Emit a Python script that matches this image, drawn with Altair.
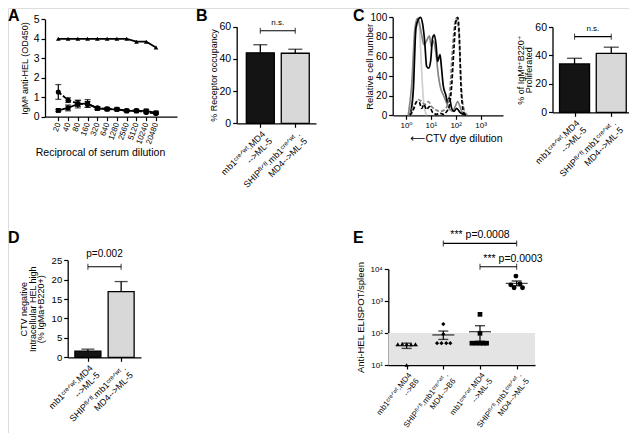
import json
import altair as alt
import pandas as pd

FONT = "Liberation Sans, Arial, DejaVu Sans, sans-serif"
W, H = 621, 425
M = 8  # page margin

# ---------------- Panel A : ELISA titration
dilution = [20, 40, 80, 160, 320, 640, 1280, 2560, 5120, 10240, 20480]
a_tri = [4.0, 4.0, 4.0, 4.0, 4.0, 4.0, 4.0, 4.0, 3.85, 3.85, 3.55]
a_circ = [1.27, 0.85, 0.68, 0.63, 0.46, 0.40, 0.38, 0.31, 0.31, 0.22, 0.17]
a_circ_err = [0.38, 0.12, 0.15, 0.15, 0.06, 0.05, 0.05, 0.04, 0.04, 0.04, 0.04]
a_sq = [0.32, 0.45, 0.65, 0.68, 0.42, 0.39, 0.38, 0.30, 0.30, 0.30, 0.20]
a_sq_err = [0.05, 0.15, 0.20, 0.20, 0.06, 0.05, 0.05, 0.04, 0.04, 0.06, 0.06]

# ---------------- shared group labels (B, C, D)
groups2 = ["mb1ᶜʳᵉᐟʷᵗ.MD4|-->ML-5", "SHIPᶠˡᐟᶠˡ.mb1ᶜʳᵉᐟʷᵗ .|MD4-->ML-5"]

# ---------------- Panel B
b_mean = [43.8, 43.5]
b_err = [5.0, 2.5]
b_sig_text = "n.s."
b_sig_y = 57.5

# ---------------- Panel C histogram (log10 CTV intensity, % of max)
h_light_lx = [0.23, 0.30, 0.36, 0.42, 0.46, 0.52, 0.56, 0.64, 0.72, 0.83]
h_light_y = [0, 30, 76, 92, 98, 95, 82, 41, 11, 0]
h_grey_lx = [0.09, 0.23, 0.36, 0.46, 0.54, 0.63, 0.72, 0.83, 0.94, 1.02, 1.10, 1.21,
             1.30, 1.39, 1.50, 1.61, 1.74, 1.88, 1.98, 2.08, 2.17, 2.28, 2.41]
h_grey_y = [0, 31, 89, 99, 94, 82, 72, 76, 81, 70, 76, 62, 41, 28, 21, 14, 7, 4, 9, 14, 9, 2, 0]
h_black_lx = [0.16, 0.29, 0.40, 0.50, 0.59, 0.67, 0.75, 0.83, 0.91, 0.99, 1.07, 1.14, 1.21,
              1.27, 1.37, 1.43, 1.50, 1.60, 1.68, 1.74, 1.84, 1.93, 2.04, 2.17, 2.31, 2.44]
h_black_y = [0, 24, 89, 98, 100, 93, 76, 50, 48, 55, 79, 82, 72, 55, 62, 48, 30, 21, 13, 18,
             7, 4, 7, 3, 1, 0]
h_greyd_lx = [0.12, 0.36, 0.50, 0.63, 0.76, 0.90, 1.03, 1.17, 1.37, 1.57, 1.74, 1.85, 1.94,
              2.03, 2.11, 2.17, 2.25, 2.36, 2.47]
h_greyd_y = [0, 11, 16, 14, 11, 14, 9, 6, 4, 6, 18, 59, 89, 99, 89, 59, 21, 4, 0]
h_blackd_lx = [0.16, 0.32, 0.43, 0.54, 0.63, 0.72, 0.83, 0.94, 1.07, 1.23, 1.37, 1.50, 1.64,
               1.74, 1.84, 1.93, 2.01, 2.08, 2.15, 2.21, 2.31, 2.41]
h_blackd_y = [0, 7, 14, 13, 7, 11, 6, 9, 3, 1, 2, 1, 4, 9, 31, 69, 96, 100, 79, 31, 4, 0]

# ---------------- Panel C bars
c_mean = [34.0, 41.5]
c_err = [4.0, 4.3]
c_sig_text = "n.s."
c_sig_y = 53.2

# ---------------- Panel D
d_mean = [1.6, 16.9]
d_err = [0.5, 2.6]
d_sig_text = "p=0.002"
d_sig_y = 23.3

# ---------------- Panel E : ELISPOT
e_labels = ["mb1ᶜʳᵉᐟʷᵗ.MD4|-->B6", "SHIPᶠˡᐟᶠˡ.mb1ᶜʳᵉᐟʷᵗ .|MD4-->B6",
            "mb1ᶜʳᵉᐟʷᵗ.MD4|-->ML-5", "SHIPᶠˡᐟᶠˡ.mb1ᶜʳᵉᐟʷᵗ .|MD4-->ML-5"]
e_group = [0] * 6 + [1] * 6 + [2] * 7 + [3] * 5
e_jitter = [-0.24, -0.12, 0.0, 0.12, 0.24, 0.0,
            0.0, 0.0, -0.17, -0.05, 0.08, 0.19,
            0.0, 0.0, -0.22, -0.11, 0.0, 0.09, 0.18,
            -0.02, -0.16, 0.09, -0.07, 0.16]
e_value = [45, 46, 45, 44, 45, 10,
           190, 92, 48, 48, 48, 48,
           383, 98, 48, 48, 48, 48, 48,
           6000, 3200, 3400, 2600, 2600]
e_mean = [40, 87, 110, 3560]
e_lo = [33, 63, 55, 3000]
e_hi = [48, 115, 169, 4200]
e_threshold = 100
e_br_from = [1, 2]
e_br_to = [3, 3]
e_br_y = [63000, 11700]
e_br_text = ["*** p=0.0008", "*** p=0.0003"]
e_br_text_x = [2.0, 2.9]


# ======================================================================
def ax(**kw):
    base = dict(grid=False, domainColor="black", tickColor="black", labelColor="black",
                titleColor="black", labelFont=FONT, titleFont=FONT, domainWidth=1.3,
                tickWidth=1.2, tickSize=4, labelPadding=2, titleFontWeight="normal",
                labelFlush=False, labelOverlap=False)
    base.update(kw)
    return alt.Axis(**base)


def left_axis(x_page, title_x_page=None, **kw):
    if title_x_page is not None:
        kw.update(titleX=title_x_page - x_page, titleBaseline="middle", titleAlign="center")
    return ax(orient="left", offset=-(x_page - M), **kw)


def bottom_axis(y_page, title_x_page=None, title_y_page=None, **kw):
    if title_x_page is not None:
        kw.update(titleX=title_x_page - M, titleY=title_y_page - y_page,
                  titleBaseline="middle", titleAlign="center")
    return ax(orient="bottom", offset=(y_page - M) - H, **kw)


def lin(d0, d1, p0, p1, **kw):
    return alt.Scale(domain=[d0, d1], range=[p0 - M, p1 - M], nice=False, zero=False, **kw)


def label_expr(labels):
    return "split(" + json.dumps(labels, ensure_ascii=False) + "[datum.value], '|')"


# ---------------- Panel A
a_first, a_last, a_ax0, a_ax1 = 58.3, 156.0, 45.0, 177.0
a_step = (a_last - a_first) / (len(dilution) - 1)
a_xs = alt.Scale(type="log", base=2,
                 domain=[dilution[0] * 2 ** (-(a_first - a_ax0) / a_step),
                         dilution[-1] * 2 ** ((a_ax1 - a_last) / a_step)],
                 range=[a_ax0 - M, a_ax1 - M], nice=False)
a_ys = lin(0, 5, 116.7, 19.3)
a_xa = bottom_axis(116.7, title_x_page=100, title_y_page=152, values=dilution, format="d",
                   labelAngle=-70, labelAlign="right", labelBaseline="middle",
                   labelFontSize=8, title="Reciprocal of serum dilution", titleFontSize=10.5)
a_ya = left_axis(45.0, title_x_page=24, values=[0, 1, 2, 3, 4, 5], labelFontSize=10.5,
                 title="IgMᵃ anti-HEL (OD450)", titleFontSize=9)

a_layers = []
for vals, errs, shape, dash, size in [(a_tri, None, "triangle-up", None, 22),
                                      (a_circ, a_circ_err, "circle", [4, 2], 26),
                                      (a_sq, a_sq_err, "square", None, 24)]:
    df = pd.DataFrame({"dil": dilution, "v": vals})
    enc = dict(x=alt.X("dil:Q", scale=a_xs, axis=a_xa), y=alt.Y("v:Q", scale=a_ys, axis=a_ya))
    line_kw = dict(color="black", strokeWidth=1.8)
    if dash:
        line_kw["strokeDash"] = dash
    a_layers.append(alt.Chart(df).mark_line(**line_kw).encode(**enc))
    a_layers.append(alt.Chart(df).mark_point(shape=shape, filled=True, color="black",
                                             size=size, opacity=1).encode(**enc))
    if errs:
        df2 = pd.DataFrame({"dil": dilution,
                            "lo": [v - e for v, e in zip(vals, errs)],
                            "hi": [v + e for v, e in zip(vals, errs)]})
        xe = alt.X("dil:Q", scale=a_xs, axis=a_xa)
        a_layers.append(alt.Chart(df2).mark_rule(color="black", strokeWidth=1.2).encode(
            x=xe, y=alt.Y("lo:Q", scale=a_ys, axis=a_ya), y2="hi:Q"))
        for f in ["lo", "hi"]:
            a_layers.append(alt.Chart(df2).mark_tick(orient="horizontal", color="black",
                                                     size=6, thickness=1.2).encode(
                x=xe, y=alt.Y(f + ":Q", scale=a_ys, axis=a_ya)))
panelA = alt.layer(*a_layers)


# ---------------- bar panels (B, C, D)
def bar_panel(means, errs, c0, step, axis_x, end_x, y0, ytop, ymax, yvals, ytitle,
              ytitle_x, ylab_size, sig_text, sig_y, sig_dy, sig_size, bw, cap):
    n = len(means)
    xs = lin((axis_x - c0) / step, (end_x - c0) / step, axis_x, end_x)
    ys = lin(0, ymax, y0, ytop)
    xa = bottom_axis(y0, values=list(range(n)), labelExpr=label_expr(groups2),
                     labelAngle=-45, labelAlign="right", labelBaseline="top",
                     labelFontSize=9, labelLineHeight=10, title=None)
    ya = left_axis(axis_x, title_x_page=ytitle_x, values=yvals, labelFontSize=ylab_size,
                   title=ytitle, titleFontSize=9, titleLineHeight=8.5)
    X = lambda f: alt.X(f, scale=xs, axis=xa)
    Y = lambda f: alt.Y(f, scale=ys, axis=ya)
    df = pd.DataFrame({"i": list(range(n)), "m": means,
                       "top": [m + e for m, e in zip(means, errs)]})
    layers = []
    for k, fill in zip(range(n), ["#141414", "#d8d8d8"]):
        layers.append(alt.Chart(df.iloc[[k]]).mark_bar(
            size=bw, orient="vertical", fill=fill, stroke="black", strokeWidth=1.3).encode(
            x=X("i:Q"), y=Y("m:Q"), y2=alt.datum(0)))
    layers.append(alt.Chart(df).mark_rule(color="black", strokeWidth=1.3).encode(
        x=X("i:Q"), y=Y("m:Q"), y2="top:Q"))
    layers.append(alt.Chart(df).mark_tick(orient="horizontal", color="black", size=cap,
                                          thickness=1.3).encode(x=X("i:Q"), y=Y("top:Q")))
    br = pd.DataFrame({"a": [0], "b": [n - 1], "y": [sig_y], "mid": [(n - 1) / 2],
                       "t": [sig_text]})
    layers.append(alt.Chart(br).mark_rule(color="black", strokeWidth=1.1).encode(
        x=X("a:Q"), x2="b:Q", y=Y("y:Q")))
    ends = pd.DataFrame({"i": [0, n - 1], "y": [sig_y, sig_y]})
    layers.append(alt.Chart(ends).mark_tick(orient="vertical", color="black", size=6,
                                            thickness=1.1).encode(x=X("i:Q"), y=Y("y:Q")))
    layers.append(alt.Chart(br).mark_text(font=FONT, fontSize=sig_size, baseline="bottom",
                                          dy=-sig_dy, color="black").encode(
        x=X("mid:Q"), y=Y("y:Q"), text="t:N"))
    return alt.layer(*layers)


panelB = bar_panel(b_mean, b_err, c0=258, step=40, axis_x=236.7, end_x=316, y0=123.3,
                   ytop=26.7, ymax=60, yvals=[0, 20, 40, 60], ytitle="% Receptor occupancy",
                   ytitle_x=213, ylab_size=10.5, sig_text=b_sig_text, sig_y=b_sig_y,
                   sig_dy=4, sig_size=8, bw=28, cap=14)
panelCbar = bar_panel(c_mean, c_err, c0=572, step=42, axis_x=552.5, end_x=632, y0=112.3,
                      ytop=27, ymax=60, yvals=[0, 20, 40, 60],
                      ytitle=["% of IgMᵃ⁺B220⁺", "Proliferated"], ytitle_x=520,
                      ylab_size=10.5, sig_text=c_sig_text, sig_y=c_sig_y, sig_dy=4,
                      sig_size=8, bw=30, cap=15)
panelD = bar_panel(d_mean, d_err, c0=85.3, step=38.5, axis_x=67.7, end_x=141, y0=357.3,
                   ytop=260.2, ymax=25, yvals=[0, 5, 10, 15, 20, 25],
                   ytitle=["CTV negative", "Intracellular HEL high", "(% IgMa+B220+)"],
                   ytitle_x=24, ylab_size=9.5, sig_text=d_sig_text, sig_y=d_sig_y,
                   sig_dy=8, sig_size=10, bw=26, cap=13)

# ---------------- Panel C histogram
h_xs = alt.Scale(type="log", domain=[0.3, 8000], range=[393 - M, 503 - M], nice=False)
h_ys = lin(0, 100, 115.3, 17.3)
h_xa = bottom_axis(115.3, title_x_page=456, title_y_page=138, values=[1, 10, 100, 1000],
                   labelExpr="datum.value == 1 ? '10⁰' : datum.value == 10 ? '10¹' : "
                             "datum.value == 100 ? '10²' : '10³'",
                   labelFontSize=8, title="⟵CTV dye dilution", titleFontSize=10.5)
h_ya = left_axis(392.7, title_x_page=369, values=[0, 20, 40, 60, 80, 100],
                 labelFontSize=10, title="Relative cell number", titleFontSize=9.5)
h_layers = []
for lx, yy, col, dash in [(h_light_lx, h_light_y, "#cfcfcf", None),
                          (h_grey_lx, h_grey_y, "#858585", None),
                          (h_black_lx, h_black_y, "#000000", None),
                          (h_greyd_lx, h_greyd_y, "#858585", [4, 2]),
                          (h_blackd_lx, h_blackd_y, "#000000", [4, 2])]:
    df = pd.DataFrame({"x": [10 ** v for v in lx], "y": yy})
    kw = dict(color=col, strokeWidth=1.7, interpolate="monotone")
    if dash:
        kw["strokeDash"] = dash
    h_layers.append(alt.Chart(df).mark_line(**kw).encode(
        x=alt.X("x:Q", scale=h_xs, axis=h_xa), y=alt.Y("y:Q", scale=h_ys, axis=h_ya),
        order="x:Q"))
panelChist = alt.layer(*h_layers)

# ---------------- Panel E
e_xs = lin(-0.5, 3.5, 388.3, 535)
e_ys = alt.Scale(type="log", domain=[10, 10000], range=[365 - M, 269 - M], nice=False)
e_xa = bottom_axis(365, values=[0, 1, 2, 3], labelExpr=label_expr(e_labels), labelAngle=-52,
                   labelAlign="right", labelBaseline="top", labelFontSize=8,
                   labelLineHeight=9.5, title=None)
e_ya = left_axis(388.3, title_x_page=360, values=[10, 100, 1000, 10000],
                 labelExpr="datum.value == 10 ? '10¹' : datum.value == 100 ? '10²' : "
                           "datum.value == 1000 ? '10³' : '10⁴'",
                 labelFontSize=8, title="Anti-HEL ELISPOT/spleen", titleFontSize=9.5)


def EX(f):
    return alt.X(f, scale=e_xs, axis=e_xa)


def EY(f):
    return alt.Y(f, scale=e_ys, axis=e_ya)


shade = pd.DataFrame({"x0": [-0.5], "x1": [3.5], "y0": [10], "y1": [e_threshold]})
e_layers = [alt.Chart(shade).mark_rect(color="#e4e4e4").encode(
    x=EX("x0:Q"), x2="x1:Q", y=EY("y0:Q"), y2="y1:Q")]
pts = pd.DataFrame({"pos": [g + j for g, j in zip(e_group, e_jitter)], "v": e_value,
                    "g": e_group})
for g, shape, size in zip(range(4), ["triangle-up", "diamond", "square", "circle"],
                          [18, 18, 22, 24]):
    e_layers.append(alt.Chart(pts[pts.g == g]).mark_point(
        shape=shape, filled=True, color="black", size=size, opacity=1).encode(
        x=EX("pos:Q"), y=EY("v:Q")))
stats = pd.DataFrame({"g": list(range(4)), "m": e_mean, "lo": e_lo, "hi": e_hi})
e_layers.append(alt.Chart(stats).mark_rule(color="black", strokeWidth=1.2).encode(
    x=EX("g:Q"), y=EY("lo:Q"), y2="hi:Q"))
for f, sz in [("lo", 10), ("hi", 10), ("m", 22)]:
    e_layers.append(alt.Chart(stats).mark_tick(orient="horizontal", color="black", size=sz,
                                               thickness=1.4).encode(x=EX("g:Q"),
                                                                     y=EY(f + ":Q")))
brE = pd.DataFrame({"a": e_br_from, "b": e_br_to, "y": e_br_y, "t": e_br_text,
                    "tx": e_br_text_x})
e_layers.append(alt.Chart(brE).mark_rule(color="black", strokeWidth=1.1).encode(
    x=EX("a:Q"), x2="b:Q", y=EY("y:Q")))
endsE = pd.DataFrame({"x": e_br_from + e_br_to, "y": e_br_y + e_br_y})
e_layers.append(alt.Chart(endsE).mark_tick(orient="vertical", color="black", size=6,
                                           thickness=1.1).encode(x=EX("x:Q"), y=EY("y:Q")))
e_layers.append(alt.Chart(brE).mark_text(font=FONT, fontSize=10.5, baseline="bottom", dy=-3,
                                         color="black").encode(
    x=EX("tx:Q"), y=EY("y:Q"), text="t:N"))
panelE = alt.layer(*e_layers)

# ---------------- panel letters
letters = []
for t, xp, yp in [("A", 8, 8), ("B", 196, 8), ("C", 353, 8), ("D", 8, 230), ("E", 353, 230)]:
    letters.append(alt.Chart(pd.DataFrame({"t": [t]})).mark_text(
        font=FONT, fontSize=16, fontWeight="bold", align="left", baseline="top",
        color="black").encode(x=alt.value(xp - M), y=alt.value(yp - M), text="t:N"))

chart = alt.layer(panelA, panelB, panelChist, panelCbar, panelD, panelE, *letters).resolve_scale(
    x="independent", y="independent").resolve_axis(x="independent", y="independent").properties(
    width=W, height=H, padding=0, autosize=alt.AutoSizeParams(type="none")
).configure_view(strokeWidth=0).configure(font=FONT)

chart.save("out.html", embed_options={"renderer": "svg", "actions": False})
